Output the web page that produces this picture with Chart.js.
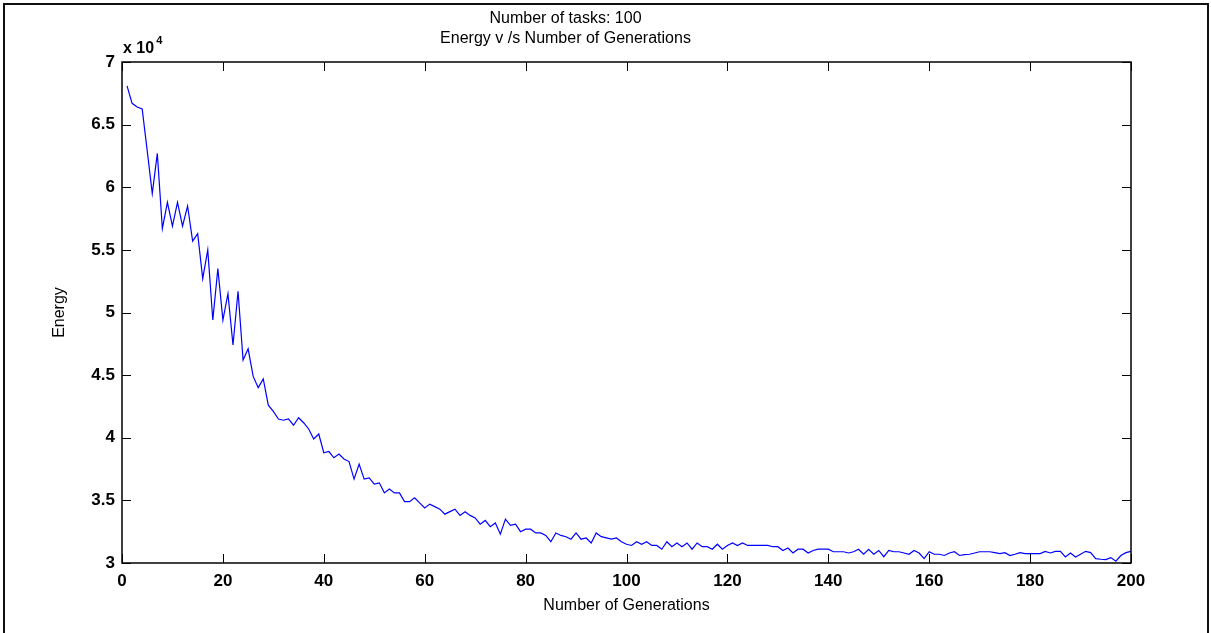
<!DOCTYPE html>
<html>
<head>
<meta charset="utf-8">
<script src="https://cdn.jsdelivr.net/npm/chart.js@4.4.1/dist/chart.umd.min.js"></script>
<style>
  html, body { margin: 0; padding: 0; background: #fff; }
  #wrap { position: relative; width: 1211px; height: 633px; overflow: hidden; }
  #frame { position: absolute; left: 3px; top: 3px; width: 1202px; height: 700px;
           border: 2px solid #111; pointer-events: none; }
</style>
</head>
<body>
<div id="wrap">
  <canvas id="energyChart" width="1211" height="633"></canvas>
  <div id="frame"></div>
</div>
<script>
// energy per generation (generation 1 .. 200)
var energy = [
  68100, 66700, 66400, 66250, 62900, 59500, 62700, 56700, 58800, 56900,
  58800, 56900, 58500, 55700, 56300, 52700, 55000, 49400, 53500, 49400,
  51500, 47400, 51700, 46200, 47100, 44900, 44000, 44700, 42600, 42100,
  41500, 41400, 41500, 41000, 41600, 41200, 40700, 39900, 40300, 38800,
  38900, 38400, 38700, 38300, 38100, 36700, 37900, 36700, 36800, 36300,
  36400, 35600, 35900, 35600, 35600, 34900, 34900, 35200, 34800, 34400,
  34700, 34500, 34300, 33900, 34100, 34300, 33800, 34100, 33800, 33600,
  33100, 33400, 32900, 33200, 32300, 33500, 33000, 33100, 32500, 32700,
  32700, 32400, 32400, 32200, 31700, 32400, 32200, 32100, 31900, 32400,
  31900, 32000, 31600, 32400, 32100, 32000, 31900, 32000, 31700, 31500,
  31400, 31700, 31500, 31700, 31400, 31400, 31100, 31700, 31300, 31600,
  31300, 31600, 31100, 31600, 31300, 31300, 31100, 31500, 31100, 31400,
  31600, 31400, 31600, 31400, 31400, 31400, 31400, 31400, 31300, 31300,
  31000, 31200, 30800, 31100, 31100, 30800, 31000, 31100, 31100, 31100,
  30900, 30900, 30900, 30800, 30900, 31100, 30700, 31100, 30700, 31000,
  30500, 31000, 30900, 30900, 30800, 30700, 31000, 30800, 30350, 30900,
  30700, 30700, 30600, 30800, 30900, 30600, 30670, 30700, 30800, 30900,
  30900, 30900, 30830, 30750, 30830, 30600, 30700, 30830, 30750, 30750,
  30750, 30750, 30930, 30800, 30930, 30930, 30480, 30800, 30480, 30700,
  30930, 30830, 30350, 30300, 30270, 30430, 30140, 30600, 30830, 30930
];

var titleLines = ['Number of tasks: 100', 'Energy v /s Number of Generations'];
var xTitle = 'Number of Generations';
var yTitle = 'Energy';
var xMin = 0, xMax = 200, xStep = 20;
var yMin = 30000, yMax = 70000, yStep = 5000;

var fontFamily = '"Liberation Sans", Arial, Helvetica, sans-serif';

// matlab style box with inward tick marks + the "x 10^4" multiplier
var matlabBox = {
  id: 'matlabBox',
  afterDraw: function(chart) {
    var ctx = chart.ctx, a = chart.chartArea;
    var xs = chart.scales.x, ys = chart.scales.y;
    var len = 9;
    ctx.save();
    ctx.strokeStyle = '#000';
    ctx.lineWidth = 1.5;
    ctx.strokeRect(a.left, a.top, a.right - a.left, a.bottom - a.top);
    ctx.lineWidth = 1;
    ctx.beginPath();
    xs.ticks.forEach(function(t) {
      var px = Math.round(xs.getPixelForValue(t.value)) + 0.5;
      ctx.moveTo(px, a.bottom); ctx.lineTo(px, a.bottom - len);
      ctx.moveTo(px, a.top); ctx.lineTo(px, a.top + len);
    });
    ys.ticks.forEach(function(t) {
      var py = Math.round(ys.getPixelForValue(t.value)) + 0.5;
      ctx.moveTo(a.left, py); ctx.lineTo(a.left + len, py);
      ctx.moveTo(a.right, py); ctx.lineTo(a.right - len, py);
    });
    ctx.stroke();

    ctx.fillStyle = '#000';
    ctx.textBaseline = 'alphabetic';
    ctx.textAlign = 'left';
    ctx.font = 'bold 16px ' + fontFamily;
    var base = 'x 10';
    ctx.fillText(base, a.left + 1, a.top - 9);
    var w = ctx.measureText(base).width;
    ctx.font = 'bold 11px ' + fontFamily;
    ctx.fillText('4', a.left + 3 + w, a.top - 18);
    ctx.restore();
  }
};

var ctx = document.getElementById('energyChart').getContext('2d');
new Chart(ctx, {
  type: 'line',
  data: {
    datasets: [{
      data: energy.map(function(v, i) { return { x: i + 1, y: v }; }),
      borderColor: '#0000ff',
      borderWidth: 1.2,
      pointRadius: 0,
      tension: 0,
      fill: false
    }]
  },
  options: {
    responsive: false,
    animation: false,
    layout: { padding: { left: 0, right: 80, top: 0, bottom: 0 } },
    plugins: {
      legend: { display: false },
      tooltip: { enabled: false },
      title: {
        display: true,
        text: titleLines,
        color: '#000',
        font: { family: fontFamily, size: 16, weight: 'normal', lineHeight: 1.25 },
        padding: { top: 9, bottom: 13 }
      }
    },
    scales: {
      x: {
        type: 'linear',
        min: xMin, max: xMax,
        grid: { display: false, drawTicks: false },
        border: { display: false },
        ticks: {
          stepSize: xStep,
          padding: 8,
          maxRotation: 0,
          color: '#000',
          font: { family: fontFamily, size: 17, weight: 'bold' }
        },
        title: {
          display: true,
          text: xTitle,
          color: '#000',
          font: { family: fontFamily, size: 16, weight: 'normal', lineHeight: 1.2 },
          padding: { top: 0, bottom: 18 }
        },
        afterFit: function(scale) { scale.height = 70; }
      },
      y: {
        type: 'linear',
        min: yMin, max: yMax,
        grid: { display: false, drawTicks: false },
        border: { display: false },
        ticks: {
          stepSize: yStep,
          padding: 7,
          color: '#000',
          font: { family: fontFamily, size: 17, weight: 'bold' },
          callback: function(v) { return String(v / 10000); }
        },
        title: {
          display: true,
          text: yTitle,
          color: '#000',
          font: { family: fontFamily, size: 16, weight: 'normal', lineHeight: 1.2 },
          padding: { top: 50, bottom: 0 }
        },
        afterFit: function(scale) { scale.width = 122; }
      }
    }
  },
  plugins: [matlabBox]
});
</script>
</body>
</html>
